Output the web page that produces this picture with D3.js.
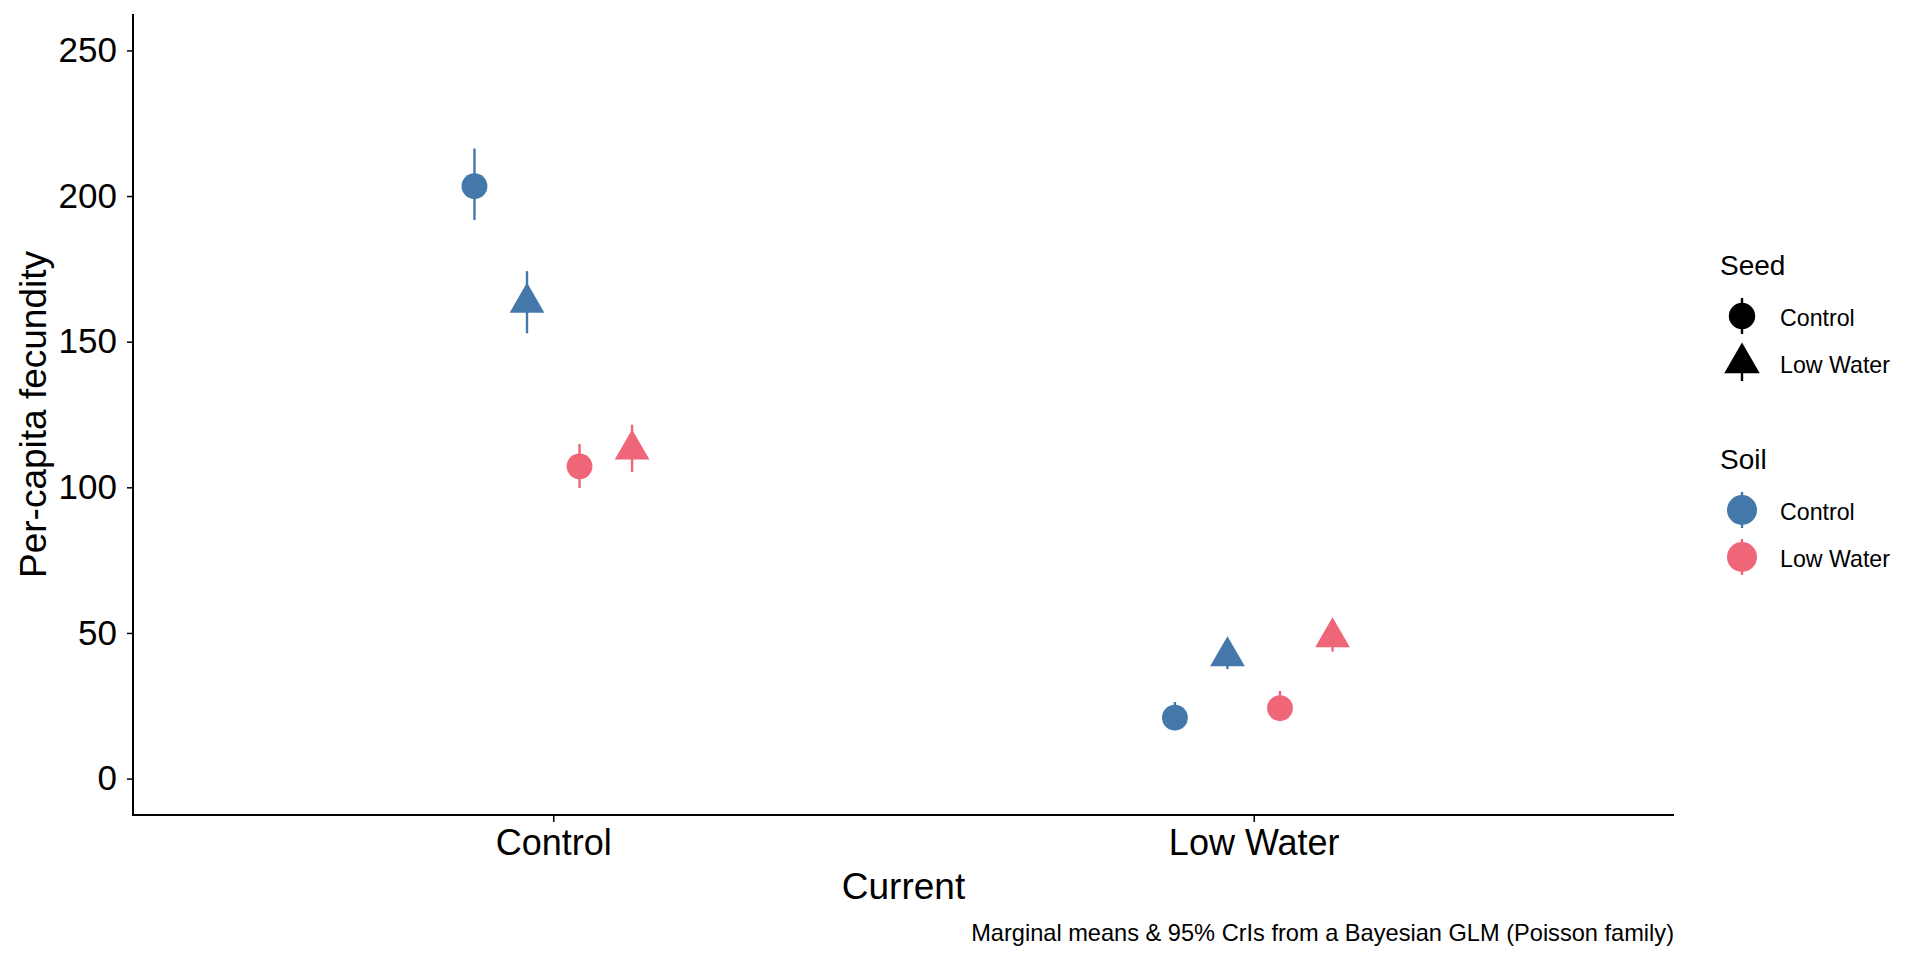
<!DOCTYPE html>
<html>
<head>
<meta charset="utf-8">
<script src="https://cdn.jsdelivr.net/npm/d3@7"></script>
<style>
  html, body { margin: 0; padding: 0; background: #fff; }
  svg { display: block; font-family: "Liberation Sans", Arial, Helvetica, sans-serif; }
</style>
</head>
<body>
<svg id="chart" width="1920" height="960"></svg>
<script>
// ---- data ----
const currentLevels = ["Control", "Low Water"];
const soilLevels = ["Control", "Low Water"];
const seedLevels = ["Control", "Low Water"];
const rowCurrent = ["Control", "Control", "Control", "Control", "Low Water", "Low Water", "Low Water", "Low Water"];
const rowSoil    = ["Control", "Control", "Low Water", "Low Water", "Control", "Control", "Low Water", "Low Water"];
const rowSeed    = ["Control", "Low Water", "Control", "Low Water", "Control", "Low Water", "Control", "Low Water"];
const means      = [203.4, 163.4, 107.2, 113.0, 20.9, 42.0, 24.2, 48.5];
const lowers     = [191.8, 152.9, 99.8, 105.2, 17.5, 37.6, 20.3, 43.6];
const uppers     = [216.3, 174.2, 114.9, 121.5, 26.3, 46.3, 30.1, 53.2];
const yTicks = [0, 50, 100, 150, 200, 250];
const soilColors = ["#4477AA", "#EE6677"];

const rows = means.map((m, i) => ({
  current: rowCurrent[i], soil: rowSoil[i], seed: rowSeed[i],
  mean: m, lo: lowers[i], hi: uppers[i], group: rowSoil[i] + "|" + rowSeed[i]
}));
const groups = [];
soilLevels.forEach(s => seedLevels.forEach(d => groups.push(s + "|" + d)));

// ---- layout ----
const svg = d3.select("#chart");
const panel = { left: 133, right: 1674, top: 14, bottom: 815 };

const x = d3.scalePoint().domain(currentLevels).range([panel.left, panel.right]).padding(0.6);
const dodge = d3.scaleBand().domain(groups).range([-0.15, 0.15]);
const y = d3.scaleLinear().domain([-12.5, 262.5]).range([panel.bottom, panel.top]);
const color = d3.scaleOrdinal().domain(soilLevels).range(soilColors);
const shape = d3.scaleOrdinal().domain(seedLevels).range(["circle", "triangle"]);

const xPos = d => x(d.current) + (dodge(d.group) + dodge.bandwidth() / 2) * x.step();

function drawShape(g, type, cx, cy, size, fill) {
  if (type === "circle") {
    g.append("circle").attr("cx", cx).attr("cy", cy).attr("r", size).attr("fill", fill);
  } else {
    const r = size * 1.5551;
    const xc = r * Math.sqrt(3) / 2;
    g.append("path")
      .attr("d", `M${cx},${cy - r}L${cx + xc},${cy + r / 2}L${cx - xc},${cy + r / 2}Z`)
      .attr("fill", fill);
  }
}

// ---- marks ----
const marks = svg.append("g");
rows.forEach(d => {
  const cx = xPos(d);
  marks.append("line")
    .attr("x1", cx).attr("x2", cx)
    .attr("y1", y(d.lo)).attr("y2", y(d.hi))
    .attr("stroke", color(d.soil)).attr("stroke-width", 2.4);
  drawShape(marks, shape(d.seed), cx, y(d.mean), 12.9, color(d.soil));
});

// ---- axes ----
const yAxis = svg.append("g").attr("transform", `translate(${panel.left},0)`)
  .call(d3.axisLeft(y).tickValues(yTicks).tickSize(6).tickPadding(10).tickSizeOuter(0));
const xAxis = svg.append("g").attr("transform", `translate(0,${panel.bottom})`)
  .call(d3.axisBottom(x).tickSize(7).tickPadding(7).tickSizeOuter(0));

[yAxis, xAxis].forEach(a => {
  a.select(".domain").attr("stroke", "#000").attr("stroke-width", 2);
  a.selectAll(".tick line").attr("stroke", "#000").attr("stroke-width", 1.5);
  a.selectAll(".tick text").attr("fill", "#000").attr("font-family", null);
});
yAxis.select(".domain").attr("d", `M0,${panel.top}V${panel.bottom + 1}`);
xAxis.select(".domain").attr("d", `M${panel.left - 1},0H${panel.right}`);
yAxis.selectAll(".tick text").attr("font-size", 35);
xAxis.selectAll(".tick text").attr("font-size", 36).attr("dy", "0.71em");

// ---- titles ----
svg.append("text")
  .attr("x", (panel.left + panel.right) / 2).attr("y", 899)
  .attr("text-anchor", "middle").attr("font-size", 37).text("Current");
svg.append("text")
  .attr("transform", `translate(46,${(panel.top + panel.bottom) / 2}) rotate(-90)`)
  .attr("text-anchor", "middle").attr("font-size", 37).text("Per-capita fecundity");
svg.append("text")
  .attr("x", panel.right).attr("y", 941)
  .attr("text-anchor", "end").attr("font-size", 23.6)
  .text("Marginal means & 95% CrIs from a Bayesian GLM (Poisson family)");

// ---- legends ----
const lg = svg.append("g");
const keyX = 1742, labelX = 1780;
lg.append("text").attr("x", 1720).attr("y", 275).attr("font-size", 28).text("Seed");
const seedKeys = [316, 363];
seedLevels.forEach((s, i) => {
  const cy = seedKeys[i];
  lg.append("line").attr("x1", keyX).attr("x2", keyX).attr("y1", cy - 18).attr("y2", cy + 18)
    .attr("stroke", "#000").attr("stroke-width", 2.4);
  drawShape(lg, shape(s), keyX, cy, 13.2, "#000");
  lg.append("text").attr("x", labelX).attr("y", cy + 9.5).attr("font-size", 23.2).text(s);
});
lg.append("text").attr("x", 1720).attr("y", 469).attr("font-size", 28).text("Soil");
const soilKeys = [510, 557];
soilLevels.forEach((s, i) => {
  const cy = soilKeys[i];
  lg.append("line").attr("x1", keyX).attr("x2", keyX).attr("y1", cy - 18).attr("y2", cy + 18)
    .attr("stroke", color(s)).attr("stroke-width", 2.4);
  drawShape(lg, "circle", keyX, cy, 15, color(s));
  lg.append("text").attr("x", labelX).attr("y", cy + 9.5).attr("font-size", 23.2).text(s);
});
</script>
</body>
</html>
